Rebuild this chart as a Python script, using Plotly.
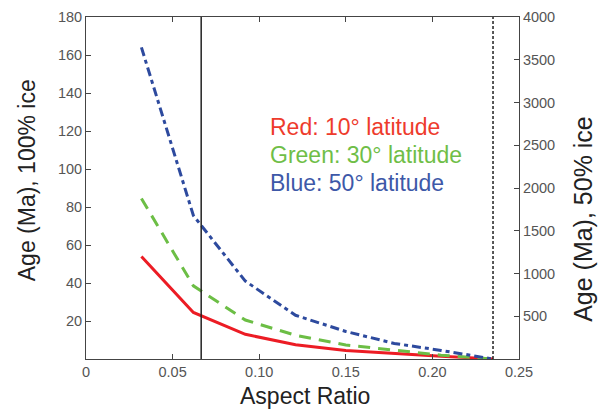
import plotly.graph_objects as go

# Data
aspect_ratio = [0.032, 0.062, 0.092, 0.121, 0.150, 0.178, 0.205, 0.235]
age_red_10 = [54, 24.5, 13, 7.5, 4.5, 2.8, 1.5, 0]
age_green_30 = [84.5, 38.5, 20.5, 12.5, 7.4, 4.5, 2.0, 0]
age_blue_50 = [164, 75.5, 41, 23, 14.5, 8.2, 4.5, 0]

x_tick_vals = [0, 0.05, 0.10, 0.15, 0.20, 0.25]
x_tick_text = ["0", "0.05", "0.10", "0.15", "0.20", "0.25"]
y_tick_vals = [20, 40, 60, 80, 100, 120, 140, 160, 180]
y2_tick_vals = [500, 1000, 1500, 2000, 2500, 3000, 3500, 4000]
ref_lines = [0.0665, 0.235]  # solid, dotted vertical markers

FONT = "Liberation Sans, Arial, Helvetica, sans-serif"
RED, GREEN, BLUE = "#ec1c24", "#6cbe45", "#2d4a9e"

fig = go.Figure()
fig.add_trace(go.Scatter(x=aspect_ratio, y=age_red_10, mode="lines",
                         line=dict(color=RED, width=3), showlegend=False))
fig.add_trace(go.Scatter(x=aspect_ratio, y=age_green_30, mode="lines",
                         line=dict(color=GREEN, width=3, dash="12px,8px"), showlegend=False))
fig.add_trace(go.Scatter(x=aspect_ratio, y=age_blue_50, mode="lines",
                         line=dict(color=BLUE, width=3, dash="9px,4px,4px,4px"), showlegend=False))
fig.add_trace(go.Scatter(x=[None], y=[None], yaxis="y2", showlegend=False, hoverinfo="skip"))

fig.add_shape(type="line", xref="x", yref="paper", x0=ref_lines[0], x1=ref_lines[0], y0=0, y1=1,
              line=dict(color="#222222", width=1.5))
fig.add_shape(type="line", xref="x", yref="paper", x0=ref_lines[1], x1=ref_lines[1], y0=0, y1=1,
              line=dict(color="#222222", width=1.5, dash="3px,2px"))

axis_common = dict(showgrid=False, zeroline=False, showline=True, linecolor="#444444", linewidth=1,
                   ticks="inside", ticklen=5, tickcolor="#444444",
                   tickfont=dict(family=FONT, size=14.5, color="#555555"))

fig.update_layout(
    width=602, height=410,
    margin=dict(l=86, r=83, t=17, b=51, autoexpand=False),
    paper_bgcolor="white", plot_bgcolor="white",
    xaxis=dict(range=[0, 0.25], tickvals=x_tick_vals, ticktext=x_tick_text, mirror="ticks", **axis_common),
    yaxis=dict(range=[0, 180], tickvals=y_tick_vals, **axis_common),
    yaxis2=dict(range=[0, 4000], tickvals=y2_tick_vals, overlaying="y", side="right", **axis_common),
    annotations=[
        dict(text="Age (Ma), 100% ice", xref="paper", yref="paper", x=-0.136, y=0.523, textangle=-90,
             showarrow=False, xanchor="center", yanchor="middle",
             font=dict(family=FONT, size=23, color="#222222")),
        dict(text="Age (Ma), 50% ice", xref="paper", yref="paper", x=1.148, y=0.41, textangle=-90,
             showarrow=False, xanchor="center", yanchor="middle",
             font=dict(family=FONT, size=25, color="#222222")),
        dict(text="Aspect Ratio", xref="paper", yref="paper", x=0.505, y=-0.108, showarrow=False,
             xanchor="center", yanchor="middle", font=dict(family=FONT, size=23, color="#222222")),
        dict(text="Red: 10° latitude", xref="paper", yref="paper", x=0.42, y=0.678, showarrow=False,
             xanchor="left", yanchor="middle", font=dict(family=FONT, size=23, color="#ee3b2c")),
        dict(text="Green: 30° latitude", xref="paper", yref="paper", x=0.42, y=0.596, showarrow=False,
             xanchor="left", yanchor="middle", font=dict(family=FONT, size=23, color="#6fbe47")),
        dict(text="Blue: 50° latitude", xref="paper", yref="paper", x=0.42, y=0.514, showarrow=False,
             xanchor="left", yanchor="middle", font=dict(family=FONT, size=23, color="#3d58a8")),
    ],
)

fig.write_html("out.html", config={"displayModeBar": False},
               post_script="document.body.style.margin='0px';document.body.style.padding='0px';")
